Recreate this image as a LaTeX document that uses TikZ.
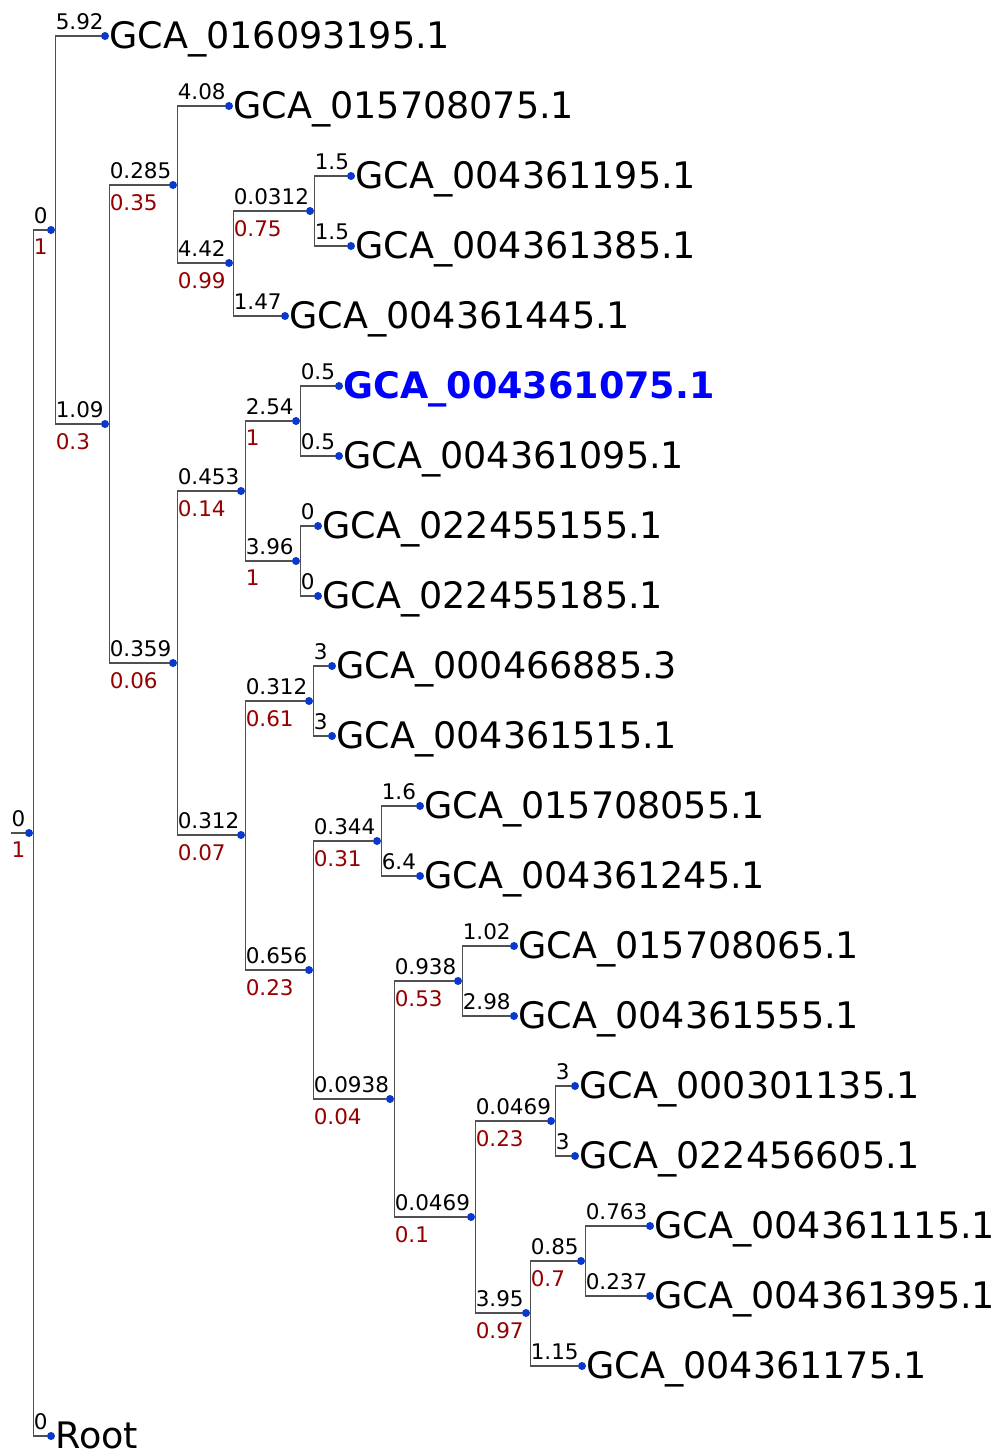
\documentclass[tikz,border=0pt]{standalone}
\usepackage{fontspec}
\setmainfont{DejaVu Sans}
\usepackage{tikz}
\definecolor{dotblue}{RGB}{8,56,204}
\definecolor{supred}{RGB}{150,0,0}
\definecolor{linegray}{RGB}{80,80,80}
\definecolor{hiblue}{RGB}{0,0,255}
% parent, child, branch length, support
\newcommand*{\branch}[4]{%
  \draw[br] (#1.east) |- node[len,pos=.5] {#3} node[sup,pos=.5] {#4} (#2);}

\begin{document}
\begin{tikzpicture}[x=1pt,y=-1pt,
    dot/.style={circle,fill=dotblue,inner sep=0pt,minimum size=8pt},
    br/.style={draw=linegray,line width=1.2pt},
    len/.style={anchor=south west,inner sep=0pt,yshift=5.5pt,font=\fontsize{21.5}{21.5}\selectfont},
    sup/.style={anchor=north west,inner sep=0pt,yshift=-8.5pt,text=supred,font=\fontsize{21.5}{21.5}\selectfont},
    leaf/.style={anchor=base west,inner sep=0pt,font=\fontsize{36.5}{36.5}\selectfont}]
    \useasboundingbox[fill=white] (0,0) rectangle (993,1452);
    % inner nodes
    \node[dot] (root) at (29,833) {};
    \node[dot] (a) at (51,230) {};
    \node[dot] (b) at (105,424) {};
    \node[dot] (c) at (173,185) {};
    \node[dot] (e) at (229,263) {};
    \node[dot] (f) at (310,211) {};
    \node[dot] (d) at (173,663) {};
    \node[dot] (g) at (241,491) {};
    \node[dot] (i) at (296,421) {};
    \node[dot] (j) at (296,561) {};
    \node[dot] (h) at (241,835) {};
    \node[dot] (k) at (309,701) {};
    \node[dot] (l) at (309,970) {};
    \node[dot] (m) at (377,841) {};
    \node[dot] (n) at (390,1099) {};
    \node[dot] (o) at (458,981) {};
    \node[dot] (p) at (471,1217) {};
    \node[dot] (q) at (551,1121) {};
    \node[dot] (r) at (526,1313) {};
    \node[dot] (s) at (581,1261) {};
    % leaves
    \node[dot] (g016093195) at (105,36) {};
    \node[dot] (g015708075) at (229,106) {};
    \node[dot] (g004361195) at (351,176) {};
    \node[dot] (g004361385) at (351,246) {};
    \node[dot] (g004361445) at (285,316) {};
    \node[dot] (g004361075) at (339,386) {};
    \node[dot] (g004361095) at (339,456) {};
    \node[dot] (g022455155) at (318,526) {};
    \node[dot] (g022455185) at (318,596) {};
    \node[dot] (g000466885) at (332,666) {};
    \node[dot] (g004361515) at (332,736) {};
    \node[dot] (g015708055) at (420,806) {};
    \node[dot] (g004361245) at (420,876) {};
    \node[dot] (g015708065) at (514,946) {};
    \node[dot] (g004361555) at (514,1016) {};
    \node[dot] (g000301135) at (575,1086) {};
    \node[dot] (g022456605) at (575,1156) {};
    \node[dot] (g004361115) at (650,1226) {};
    \node[dot] (g004361395) at (650,1296) {};
    \node[dot] (g004361175) at (582,1366) {};
    \node[dot] (groot) at (51,1436) {};

    \foreach \n/\t in {g016093195/GCA\_016093195.1, g015708075/GCA\_015708075.1,
        g004361195/GCA\_004361195.1, g004361385/GCA\_004361385.1,
        g004361445/GCA\_004361445.1, g004361095/GCA\_004361095.1,
        g022455155/GCA\_022455155.1, g022455185/GCA\_022455185.1,
        g000466885/GCA\_000466885.3, g004361515/GCA\_004361515.1,
        g015708055/GCA\_015708055.1, g004361245/GCA\_004361245.1,
        g015708065/GCA\_015708065.1, g004361555/GCA\_004361555.1,
        g000301135/GCA\_000301135.1, g022456605/GCA\_022456605.1,
        g004361115/GCA\_004361115.1, g004361395/GCA\_004361395.1,
        g004361175/GCA\_004361175.1, groot/Root}
      \node[leaf] (t\n) at ([yshift=-12.5pt]\n.east) {\t};
    \node[leaf,text=hiblue,font=\fontsize{36.5}{36.5}\selectfont\bfseries] (tg004361075)
      at ([yshift=-12.5pt]g004361075.east) {GCA\_004361075.1};

    % root stub
    \coordinate (stub) at (11,833);
    \draw[br] (stub) -- node[len,pos=0] {0} node[sup,pos=0] {1} (root);

    \branch{root}{a}{0}{1}
    \branch{root}{groot}{0}{}
    \branch{a}{g016093195}{5.92}{}
    \branch{a}{b}{1.09}{0.3}
    \branch{b}{c}{0.285}{0.35}
    \branch{c}{g015708075}{4.08}{}
    \branch{c}{e}{4.42}{0.99}
    \branch{e}{f}{0.0312}{0.75}
    \branch{f}{g004361195}{1.5}{}
    \branch{f}{g004361385}{1.5}{}
    \branch{e}{g004361445}{1.47}{}
    \branch{b}{d}{0.359}{0.06}
    \branch{d}{g}{0.453}{0.14}
    \branch{g}{i}{2.54}{1}
    \branch{i}{g004361075}{0.5}{}
    \branch{i}{g004361095}{0.5}{}
    \branch{g}{j}{3.96}{1}
    \branch{j}{g022455155}{0}{}
    \branch{j}{g022455185}{0}{}
    \branch{d}{h}{0.312}{0.07}
    \branch{h}{k}{0.312}{0.61}
    \branch{k}{g000466885}{3}{}
    \branch{k}{g004361515}{3}{}
    \branch{h}{l}{0.656}{0.23}
    \branch{l}{m}{0.344}{0.31}
    \branch{m}{g015708055}{1.6}{}
    \branch{m}{g004361245}{6.4}{}
    \branch{l}{n}{0.0938}{0.04}
    \branch{n}{o}{0.938}{0.53}
    \branch{o}{g015708065}{1.02}{}
    \branch{o}{g004361555}{2.98}{}
    \branch{n}{p}{0.0469}{0.1}
    \branch{p}{q}{0.0469}{0.23}
    \branch{q}{g000301135}{3}{}
    \branch{q}{g022456605}{3}{}
    \branch{p}{r}{3.95}{0.97}
    \branch{r}{s}{0.85}{0.7}
    \branch{s}{g004361115}{0.763}{}
    \branch{s}{g004361395}{0.237}{}
    \branch{r}{g004361175}{1.15}{}
\end{tikzpicture}
\end{document}
